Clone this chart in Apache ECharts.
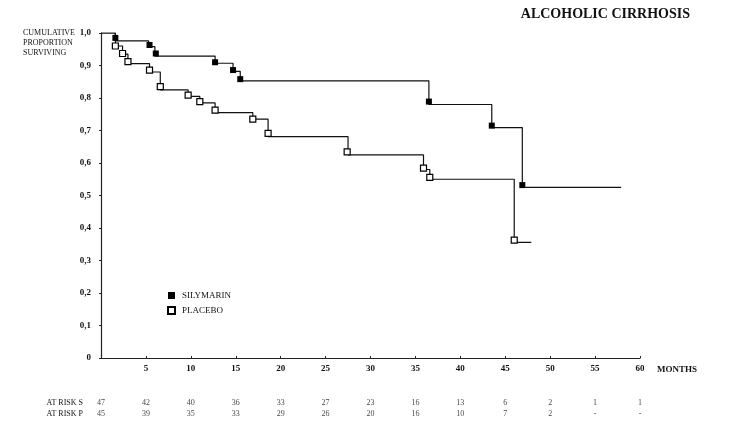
<!DOCTYPE html>
<html>
<head>
<meta charset="utf-8">
<script src="https://cdn.jsdelivr.net/npm/echarts@6/dist/echarts.min.js"></script>
<style>
  html, body { margin: 0; padding: 0; background: #fff; }
  #chart { width: 736px; height: 425px; }
</style>
</head>
<body>
<div id="chart"></div>
<script>
// step curves (month, survival after the step)
const silyTime = [0, 1.6, 5.3, 6.0, 12.7, 14.7, 15.5, 36.5, 43.5, 46.9, 57.9];
const silySurv = [1.0, 0.976, 0.958, 0.929, 0.907, 0.882, 0.853, 0.780, 0.709, 0.525, 0.525];
const placTime = [0, 1.6, 2.4, 3.0, 5.4, 6.6, 9.7, 11.0, 12.7, 16.9, 18.6, 27.5, 35.9, 36.6, 46.0, 47.9];
const placSurv = [1.0, 0.960, 0.935, 0.906, 0.880, 0.825, 0.805, 0.785, 0.755, 0.735, 0.681, 0.625, 0.580, 0.550, 0.356, 0.356];

// death markers
const silyMarkTime = [1.6, 5.4, 6.1, 12.7, 14.7, 15.5, 36.5, 43.5, 46.9];
const silyMarkSurv = [0.985, 0.963, 0.937, 0.910, 0.886, 0.858, 0.789, 0.715, 0.532];
const placMarkTime = [1.6, 2.4, 3.0, 5.4, 6.6, 9.7, 11.0, 12.7, 16.9, 18.6, 27.4, 35.9, 36.6, 46.0];
const placMarkSurv = [0.960, 0.937, 0.912, 0.886, 0.835, 0.809, 0.789, 0.763, 0.735, 0.691, 0.634, 0.584, 0.556, 0.363];

// numbers at risk
const riskMonths = [0, 5, 10, 15, 20, 25, 30, 35, 40, 45, 50, 55, 60];
const riskS = ['47', '42', '40', '36', '33', '27', '23', '16', '13', '6', '2', '1', '1'];
const riskP = ['45', '39', '35', '33', '29', '26', '20', '16', '10', '7', '2', '-', '-'];
const riskRows = ['AT RISK S', 'AT RISK P'];

const font = 'Liberation Serif';
const zip = (a, b) => a.map((v, i) => [v, b[i]]);

const riskData = [];
riskMonths.forEach((m, i) => {
    riskData.push([m, 0, riskS[i]]);
    riskData.push([m, 1, riskP[i]]);
});

const chart = echarts.init(document.getElementById('chart'));
chart.setOption({
    animation: false,
    backgroundColor: '#fff',
    title: {
        text: 'ALCOHOLIC CIRRHOSIS',
        right: 41,
        top: 2,
        textStyle: { fontFamily: font, fontWeight: 'bold', fontSize: 14, color: '#111' }
    },
    legend: {
        orient: 'vertical',
        left: 162,
        top: 286,
        itemWidth: 7,
        itemHeight: 7,
        itemGap: 6,
        data: ['SILYMARIN', 'PLACEBO'],
        textStyle: { fontFamily: font, fontSize: 9, color: '#111', padding: [0, 0, 0, 2] }
    },
    graphic: [{
        type: 'text',
        right: 661,
        top: 28,
        style: {
            text: 'CUMULATIVE\nPROPORTION\nSURVIVING',
            font: '8px "Liberation Serif"',
            lineHeight: 10,
            align: 'right',
            fill: '#111'
        }
    }],
    grid: [
        { left: 101, right: 96, top: 33, bottom: 67 },
        { left: 101, right: 96, top: 397, height: 22 }
    ],
    xAxis: [{
        gridIndex: 0,
        type: 'value',
        min: 0,
        max: 60,
        interval: 5,
        name: 'MONTHS',
        nameLocation: 'end',
        nameGap: 17,
        nameTextStyle: { fontFamily: font, fontSize: 9, fontWeight: 'bold', color: '#111', verticalAlign: 'top', padding: [7, 0, 0, 0] },
        splitLine: { show: false },
        axisLine: { lineStyle: { color: '#222', width: 1.2 } },
        axisTick: { inside: true, length: 2, lineStyle: { color: '#222' } },
        axisLabel: {
            margin: 6,
            fontFamily: font, fontSize: 9, fontWeight: 'bold', color: '#111',
            formatter: v => v === 0 ? '' : String(v)
        }
    }, {
        gridIndex: 1,
        type: 'value',
        min: 0,
        max: 60,
        interval: 5,
        position: 'top',
        offset: 7,
        splitLine: { show: false },
        axisLine: { lineStyle: { color: '#333', width: 1 } },
        axisTick: { length: 2, lineStyle: { color: '#333' } },
        axisLabel: { show: false }
    }],
    yAxis: [{
        gridIndex: 0,
        type: 'value',
        min: 0,
        max: 1,
        interval: 0.1,
        splitLine: { show: false },
        axisLine: { show: true, lineStyle: { color: '#222', width: 1.2 } },
        axisTick: { show: true, length: 2, lineStyle: { color: '#222' } },
        axisLabel: {
            margin: 10,
            fontFamily: font, fontSize: 9, fontWeight: 'bold', color: '#111',
            formatter: v => v === 0 ? '0' : v.toFixed(1).replace('.', ',')
        }
    }, {
        gridIndex: 1,
        type: 'category',
        data: riskRows,
        inverse: true,
        axisLine: { show: false },
        axisTick: { show: false },
        axisLabel: { margin: 18, fontFamily: font, fontSize: 8, color: '#111' }
    }],
    series: [{
        name: 'silyLine',
        type: 'line',
        step: 'end',
        data: zip(silyTime, silySurv),
        showSymbol: false,
        lineStyle: { color: '#111', width: 1.2 }
    }, {
        name: 'placLine',
        type: 'line',
        step: 'end',
        data: zip(placTime, placSurv),
        showSymbol: false,
        lineStyle: { color: '#111', width: 1.2 }
    }, {
        name: 'SILYMARIN',
        type: 'scatter',
        symbol: 'rect',
        symbolSize: 6,
        data: zip(silyMarkTime, silyMarkSurv),
        itemStyle: { color: '#000', opacity: 1 },
        z: 5
    }, {
        name: 'PLACEBO',
        type: 'scatter',
        symbol: 'rect',
        symbolSize: 6,
        data: zip(placMarkTime, placMarkSurv),
        itemStyle: { color: '#fff', borderColor: '#000', borderWidth: 1.2, opacity: 1 },
        z: 5
    }, {
        name: 'risk',
        type: 'scatter',
        xAxisIndex: 1,
        yAxisIndex: 1,
        symbolSize: 1,
        data: riskData,
        itemStyle: { color: 'rgba(0,0,0,0)' },
        label: {
            show: true,
            position: 'inside',
            fontFamily: font,
            fontSize: 8,
            color: '#111',
            formatter: p => p.data[2]
        }
    }]
});
</script>
</body>
</html>
